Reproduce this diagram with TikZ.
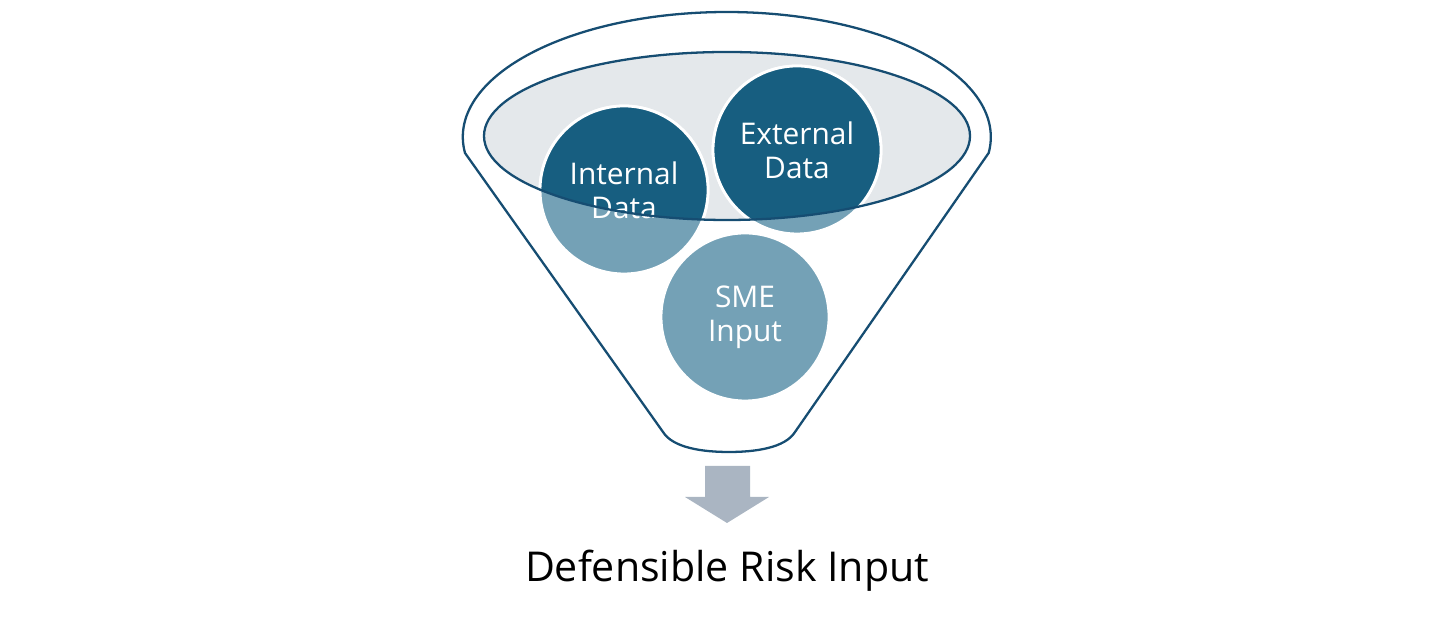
\documentclass[tikz,border=0pt]{standalone}
\usepackage{fontspec}
\setmainfont{Open Sans}
\usepackage{tikz}
\usetikzlibrary{positioning}
\definecolor{funnelline}{RGB}{22,77,114}
\definecolor{darkblob}{RGB}{23,94,128}
\definecolor{lightblob}{RGB}{116,161,182}
\definecolor{rimgray}{RGB}{228,232,235}
\definecolor{arrowgray}{RGB}{170,181,194}
\tikzset{
  blob/.style={circle, minimum size=1.68cm, inner sep=0pt, draw=white,
               line width=0.8pt, fill=lightblob},
  blobtext/.style={text=white, align=center, inner sep=0pt,
                   font=\fontsize{8.5}{9.7}\selectfont},
  rim/.style={draw=funnelline, line width=0.65pt}
}

\begin{document}
\begin{tikzpicture}
  \useasboundingbox (0,0) rectangle (14.56,6.30);
  % funnel body
  \draw[rim] (4.65,4.77)
    arc[start angle=187.35, end angle=-7.35, x radius=2.64, y radius=1.25]
    -- (7.95,1.98) .. controls (7.85,1.82) and (7.55,1.78) .. (7.29,1.78)
    .. controls (7.03,1.78) and (6.73,1.82) .. (6.63,1.98) -- cycle;
  \fill[rimgray] (7.27,4.94) ellipse [x radius=2.43, y radius=0.84];

  \node[blob] (internal) at (6.24,4.40) {};
  \node[blob] (external) at (7.97,4.80) {};
  \node[blob] (sme)      at (7.45,3.13) {};

  % darker where the circles sit inside the rim
  \begin{scope}
    \clip (7.27,4.94) ellipse [x radius=2.43, y radius=0.84];
    \foreach \b in {internal, external}
      \draw[white, line width=0.8pt, fill=darkblob] (\b) circle (0.84);
  \end{scope}

  \node[blobtext] (internal-txt) at (internal) {Internal\\Data};
  \node[blobtext] (external-txt) at (external) {External\\Data};
  \node[blobtext] (sme-txt)      at (sme)      {SME\\Input};

  \draw[rim] (7.27,4.94) ellipse [x radius=2.43, y radius=0.84];

  % outflow
  \fill[arrowgray] (7.05,1.64) -- (7.50,1.64) -- (7.50,1.33) -- (7.69,1.33)
    -- (7.27,1.07) -- (6.85,1.33) -- (7.05,1.33) -- cycle;
  \node[anchor=base, font=\fontsize{11.7}{14}\selectfont] (result)
    at (7.27,0.48) {Defensible Risk Input};
\end{tikzpicture}
\end{document}
